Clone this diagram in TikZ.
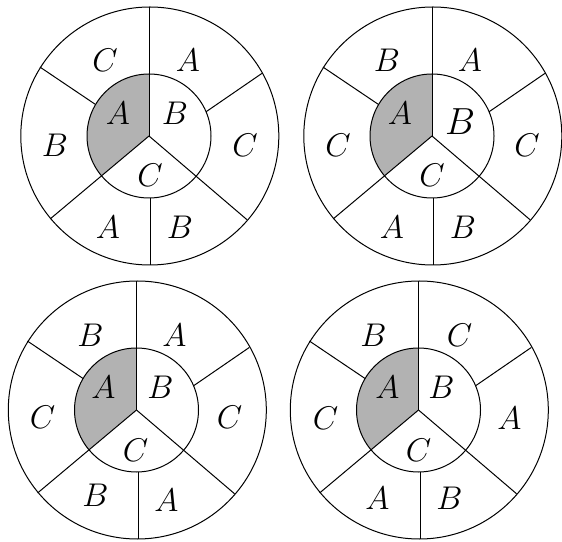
\documentclass[tikz,border=0pt]{standalone}
\tikzset{
  ln/.style={line width=0.5pt},
  lab/.style={font=\Large, scale=1.14, inner sep=0pt},
  wheel/.pic={
    \fill[black!30] (0,0) -- (90:62) arc (90:220:62) -- cycle;
    \draw[ln] (0,0) circle [radius=62];
    \draw[ln] (0.8,0) circle [radius=129];
    \draw[ln] (0,0) -- (90:129);
    \draw[ln] (0,0) -- (220:129);
    \draw[ln] (0,0) -- (319.5:129);
    \draw[ln] (23:62) -- (29:129);
    \draw[ln] (149.5:62) -- (147.7:129);
    \draw[ln] (1.7,-62) -- (1.7,-129);
  }
}
\begin{document}
\begin{tikzpicture}[x=0.5pt,y=0.5pt]
\useasboundingbox (0,0) rectangle (562,541);
% diagram 1
\begin{scope}[shift={(149,405)}]
  \pic {wheel};
  \node[lab] (d1o1) at (-44,76) {$C$};
  \node[lab] (d1o2) at (39,76) {$A$};
  \node[lab] (d1o3) at (-94,-9) {$B$};
  \node[lab] (d1o4) at (96,-9) {$C$};
  \node[lab] (d1o5) at (-41,-91) {$A$};
  \node[lab] (d1o6) at (31,-91) {$B$};
  \node[lab] (d1i1) at (-31,23) {$A$};
  \node[lab] (d1i2) at (26,23) {$B$};
  \node[lab] (d1i3) at (1,-39) {$C$};
\end{scope}
% diagram 2
\begin{scope}[shift={(432,405)}]
  \pic {wheel};
  \node[lab] (d2o1) at (-45,76) {$B$};
  \node[lab] (d2o2) at (38,76) {$A$};
  \node[lab] (d2o3) at (-94,-9) {$C$};
  \node[lab] (d2o4) at (95,-9) {$C$};
  \node[lab] (d2o5) at (-40,-91) {$A$};
  \node[lab] (d2o6) at (31,-91) {$B$};
  \node[lab] (d2i1) at (-32,23) {$A$};
  \node[lab,scale=1.15] (d2i2) at (28,14) {$B$};
  \node[lab] (d2i3) at (0,-39) {$C$};
\end{scope}
% diagram 3
\begin{scope}[shift={(136.5,131)}]
  \pic {wheel};
  \node[lab] (d3o1) at (-46,75) {$B$};
  \node[lab] (d3o2) at (38,75) {$A$};
  \node[lab] (d3o3) at (-94,-7) {$C$};
  \node[lab] (d3o4) at (93,-7) {$C$};
  \node[lab] (d3o5) at (-41,-85) {$B$};
  \node[lab] (d3o6) at (30,-90) {$A$};
  \node[lab] (d3i1) at (-33,23) {$A$};
  \node[lab] (d3i2) at (24,23) {$B$};
  \node[lab] (d3i3) at (-1,-40) {$C$};
\end{scope}
% diagram 4
\begin{scope}[shift={(418.5,131)}]
  \pic {wheel};
  \node[lab] (d4o1) at (-45,75) {$B$};
  \node[lab] (d4o2) at (41,75) {$C$};
  \node[lab] (d4o3) at (-93,-8) {$C$};
  \node[lab] (d4o4) at (91,-8) {$A$};
  \node[lab] (d4o5) at (-41,-88) {$A$};
  \node[lab] (d4o6) at (31,-88) {$B$};
  \node[lab] (d4i1) at (-31,23) {$A$};
  \node[lab] (d4i2) at (23,23) {$B$};
  \node[lab] (d4i3) at (0,-40) {$C$};
\end{scope}
\end{tikzpicture}
\end{document}
